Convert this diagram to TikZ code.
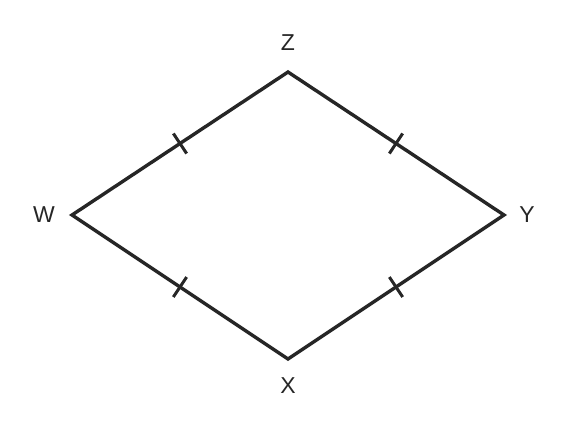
\documentclass[tikz,border=0pt]{standalone}
\usepackage{fontspec}
\setmainfont{Liberation Sans}
\usepackage{tikz}
\usetikzlibrary{calc}

\begin{document}
\begin{tikzpicture}[x=1pt,y=-1pt,
    side/.style={line width=3.4pt,color=black!85,line join=miter},
    lbl/.style={font=\fontsize{23}{27}\selectfont,text=black!85}]
                \useasboundingbox (0,0) rectangle (576,432);
                \coordinate (W) at (72,215);
                \coordinate (Z) at (288,72);
                \coordinate (Y) at (504,215);
                \coordinate (X) at (288,359);
                \draw[side] (W) -- (Z) -- (Y) -- (X) -- cycle;
                % equal-length marks
                \draw[side,line width=3pt] ($(W)!0.5!(Z)!12pt!90:(Z)$) -- ($(W)!0.5!(Z)!12pt!-90:(Z)$);
                \draw[side,line width=3pt] ($(Z)!0.5!(Y)!12pt!90:(Y)$) -- ($(Z)!0.5!(Y)!12pt!-90:(Y)$);
                \draw[side,line width=3pt] ($(Y)!0.5!(X)!12pt!90:(X)$) -- ($(Y)!0.5!(X)!12pt!-90:(X)$);
                \draw[side,line width=3pt] ($(X)!0.5!(W)!12pt!90:(W)$) -- ($(X)!0.5!(W)!12pt!-90:(W)$);
                \node[lbl] (lz) at (288,43) {Z};
                \node[lbl] (lw) at (44,215) {W};
                \node[lbl] (ly) at (527,215) {Y};
                \node[lbl] (lx) at (288,386) {X};
            \end{tikzpicture}
\end{document}
